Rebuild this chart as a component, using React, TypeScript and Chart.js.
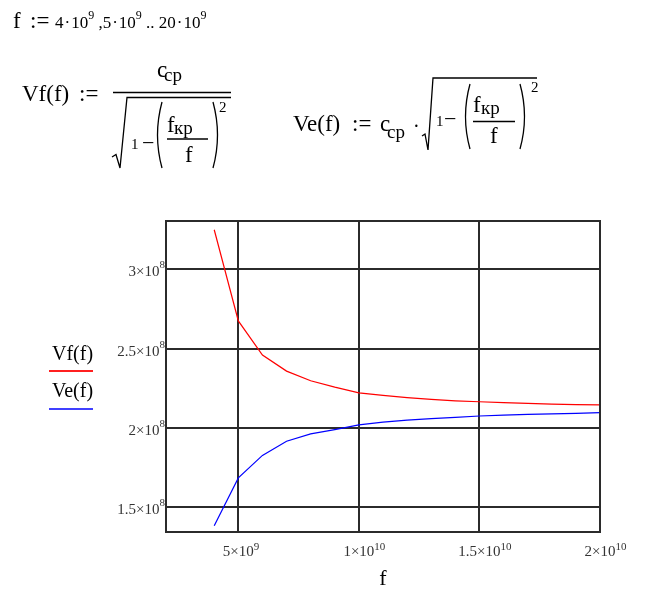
import React, { useEffect, useRef } from "react";
import { Chart, registerables } from "chart.js";

Chart.register(...registerables);

// ---- data ----
const FREQ = [4e9, 5e9, 6e9, 7e9, 8e9, 9e9, 10e9, 11e9, 12e9, 13e9, 14e9, 15e9, 16e9, 17e9, 18e9, 19e9, 20e9];
const VF = [3.25e8, 2.675e8, 2.46e8, 2.359e8, 2.298e8, 2.258e8, 2.222e8, 2.206e8, 2.192e8, 2.181e8, 2.172e8, 2.166e8, 2.16e8, 2.155e8, 2.151e8, 2.148e8, 2.146e8];
const VE = [1.385e8, 1.686e8, 1.828e8, 1.917e8, 1.963e8, 1.99e8, 2.02e8, 2.038e8, 2.05e8, 2.06e8, 2.068e8, 2.076e8, 2.081e8, 2.086e8, 2.09e8, 2.093e8, 2.097e8];

const X_TICKS = [5e9, 1e10, 1.5e10, 2e10];
const X_LABEL_BASE = ["5×10", "1×10", "1.5×10", "2×10"];
const X_LABEL_EXP = ["9", "10", "10", "10"];
const Y_TICKS = [1.5e8, 2e8, 2.5e8, 3e8];
const Y_LABEL_BASE = ["1.5×10", "2×10", "2.5×10", "3×10"];
const Y_LABEL_EXP = ["8", "8", "8", "8"];
const X_MIN = 2e9;
const X_MAX = 2e10;
const Y_MIN = 1.345e8;
const Y_MAX = 3.305e8;

const SERIF = "'Liberation Serif','Times New Roman',serif";

function T(props: { x: number; y: number; s: number; children: any; color?: string }) {
  const { x, y, s, children, color } = props;
  return (
    <span
      style={{
        position: "absolute",
        left: x,
        top: y - 0.8375 * s,
        fontSize: s,
        lineHeight: 1,
        fontFamily: SERIF,
        whiteSpace: "pre",
        color: color || "#000",
      }}
    >
      {children}
    </span>
  );
}

const framePlugin = {
  id: "frame",
  afterDatasetsDraw(chart: any) {
    const { ctx, chartArea } = chart;
    ctx.save();
    ctx.strokeStyle = "#2b2b2b";
    ctx.lineWidth = 2;
    ctx.strokeRect(chartArea.left, chartArea.top, chartArea.right - chartArea.left, chartArea.bottom - chartArea.top);
    ctx.restore();
  },
};

// tick labels of the form a×10^n, drawn with a raised exponent
const expLabelPlugin = {
  id: "expLabels",
  afterDraw(chart: any) {
    const { ctx, chartArea } = chart;
    const xs = chart.scales.x;
    const ys = chart.scales.y;
    const baseFont = `15px ${SERIF}`;
    const expFont = `11px ${SERIF}`;
    ctx.save();
    ctx.fillStyle = "#333";
    ctx.textBaseline = "alphabetic";
    // x axis
    X_TICKS.forEach((v, i) => {
      const px = xs.getPixelForValue(v);
      ctx.font = baseFont;
      const bw = ctx.measureText(X_LABEL_BASE[i]).width;
      const by = chartArea.bottom + 24;
      ctx.textAlign = "left";
      ctx.fillText(X_LABEL_BASE[i], px - bw / 2, by);
      ctx.font = expFont;
      ctx.fillText(X_LABEL_EXP[i], px + bw / 2, by - 6);
    });
    // y axis
    Y_TICKS.forEach((v, i) => {
      const py = ys.getPixelForValue(v);
      ctx.font = expFont;
      const ew = ctx.measureText(Y_LABEL_EXP[i]).width;
      const right = chartArea.left - 1;
      ctx.textAlign = "right";
      ctx.fillText(Y_LABEL_EXP[i], right, py - 1);
      ctx.font = baseFont;
      ctx.fillText(Y_LABEL_BASE[i], right - ew, py + 7);
    });
    ctx.restore();
  },
};

function Formulas() {
  const dot = { margin: "0 1px" };
  const sup = { fontSize: 12, position: "relative" as const, top: -9 };
  return (
    <>
      {/* line 1 */}
      <T x={13} y={28} s={23}>f</T>
      <T x={30} y={28} s={23}>:=</T>
      <span
        style={{
          position: "absolute",
          left: 55,
          top: 28 - 0.8375 * 17,
          fontSize: 17,
          lineHeight: 1,
          fontFamily: SERIF,
          whiteSpace: "pre",
        }}
      >
        4<span style={dot}>·</span>10<span style={sup}>9</span> ,5<span style={dot}>·</span>10
        <span style={sup}>9</span> .. 20<span style={dot}>·</span>10<span style={sup}>9</span>
      </span>

      {/* Vf */}
      <T x={22} y={101} s={23}>Vf(f)</T>
      <T x={79} y={101} s={23}>:=</T>
      <T x={157} y={77} s={23}>c</T>
      <T x={164} y={81} s={19}>ср</T>
      <T x={131} y={150} s={15}>1</T>
      <T x={142} y={150} s={22}>−</T>
      <T x={219} y={113} s={15}>2</T>
      <T x={167} y={132} s={23}>f</T>
      <T x={174} y={134} s={19}>кр</T>
      <T x={185} y={162} s={23}>f</T>

      {/* Ve */}
      <T x={293} y={131.5} s={23}>Ve(f)</T>
      <T x={352} y={131.5} s={23}>:=</T>
      <T x={380} y={131.5} s={23}>c</T>
      <T x={387} y={138} s={19}>ср</T>
      <T x={413} y={133} s={20}>·</T>
      <T x={436} y={127} s={15}>1</T>
      <T x={444} y={126} s={22}>−</T>
      <T x={531} y={93} s={15}>2</T>
      <T x={473} y={112} s={23}>f</T>
      <T x={481} y={114} s={19}>кр</T>
      <T x={490} y={143} s={23}>f</T>

      <svg
        width={648}
        height={200}
        style={{ position: "absolute", left: 0, top: 0, pointerEvents: "none" }}
      >
        <g fill="none" stroke="#000" strokeWidth={1.3}>
          {/* Vf */}
          <line x1={113} y1={92.5} x2={231} y2={92.5} />
          <polyline points="112,157 116,154.5 120,168 127,97.5 231,97.5" />
          <path d="M162 102 Q153 135 162 168" />
          <path d="M213 102 Q222 135 213 168" />
          <line x1={167} y1={139} x2={208} y2={139} />
          {/* Ve */}
          <polyline points="422,136 425,134 428,150 433,78 537,78" />
          <path d="M470 84 Q461 116.5 470 149" />
          <path d="M520 84 Q529 116.5 520 149" />
          <line x1={473} y1={121.5} x2={515} y2={121.5} />
        </g>
      </svg>
    </>
  );
}

function Legend() {
  return (
    <>
      <T x={52} y={360} s={20}>Vf(f)</T>
      <div style={{ position: "absolute", left: 49, top: 370, width: 44, height: 2, background: "#ff2020" }} />
      <T x={52} y={397} s={20}>Ve(f)</T>
      <div style={{ position: "absolute", left: 49, top: 408, width: 44, height: 2, background: "#4040ff" }} />
    </>
  );
}

export default function App() {
  const ref = useRef<HTMLCanvasElement | null>(null);

  useEffect(() => {
    if (!ref.current) return;
    const chart = new Chart(ref.current, {
      type: "line",
      data: {
        datasets: [
          {
            label: "Vf(f)",
            data: FREQ.map((f, i) => ({ x: f, y: VF[i] })),
            borderColor: "#ff0000",
            borderWidth: 1.2,
            pointRadius: 0,
            tension: 0,
            fill: false,
          },
          {
            label: "Ve(f)",
            data: FREQ.map((f, i) => ({ x: f, y: VE[i] })),
            borderColor: "#0000ff",
            borderWidth: 1.2,
            pointRadius: 0,
            tension: 0,
            fill: false,
          },
        ],
      },
      options: {
        animation: false,
        responsive: true,
        maintainAspectRatio: false,
        layout: { padding: { left: 86, right: 48, top: 221, bottom: 0 } },
        plugins: { legend: { display: false }, tooltip: { enabled: false } },
        scales: {
          x: {
            type: "linear",
            min: X_MIN,
            max: X_MAX,
            afterBuildTicks: (scale: any) => {
              scale.ticks = X_TICKS.map((v) => ({ value: v }));
            },
            afterFit: (scale: any) => {
              scale.height = 64;
            },
            grid: { color: "#2b2b2b", lineWidth: 2, drawTicks: false },
            border: { display: false },
            ticks: { display: false },
            title: {
              display: true,
              text: "f",
              color: "#000",
              font: { family: SERIF, size: 22 },
              padding: { top: 0, bottom: 4 },
            },
          },
          y: {
            type: "linear",
            min: Y_MIN,
            max: Y_MAX,
            afterBuildTicks: (scale: any) => {
              scale.ticks = Y_TICKS.map((v) => ({ value: v }));
            },
            afterFit: (scale: any) => {
              scale.width = 80;
            },
            grid: { color: "#2b2b2b", lineWidth: 2, drawTicks: false },
            border: { display: false },
            ticks: { display: false },
          },
        },
      },
      plugins: [framePlugin, expLabelPlugin],
    } as any);
    return () => chart.destroy();
  }, []);

  return (
    <div style={{ position: "absolute", left: 0, top: 0, width: 648, height: 596, background: "#fff" }}>
      <div style={{ position: "absolute", left: 0, top: 0, width: 648, height: 596 }}>
        <canvas ref={ref} />
      </div>
      <Formulas />
      <Legend />
    </div>
  );
}
